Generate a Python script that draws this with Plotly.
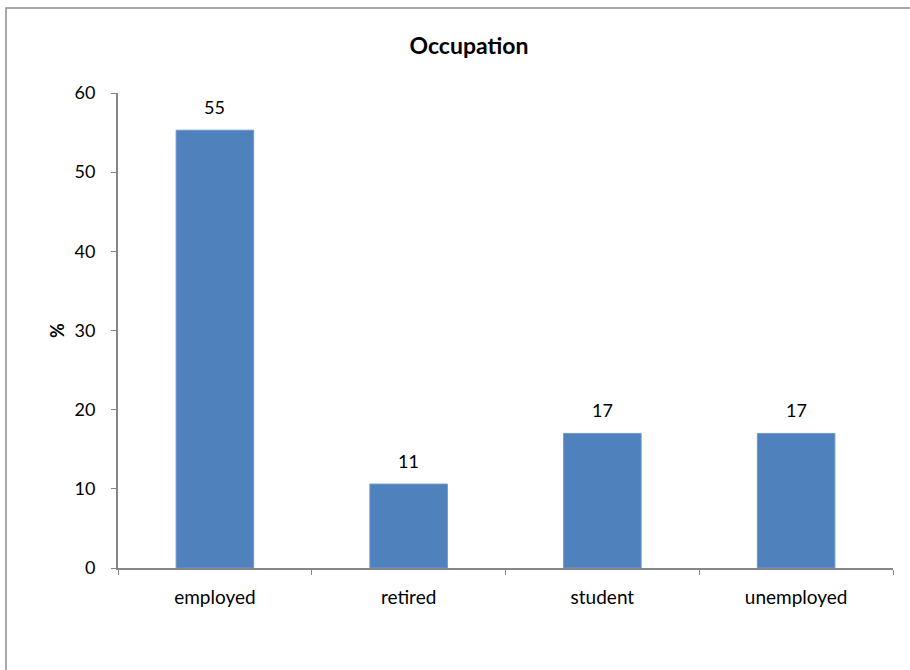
import plotly.graph_objects as go

categories = ["employed", "retired", "student", "unemployed"]
values = [55.3, 10.6, 17.0, 17.0]
y_ticks = [0, 10, 20, 30, 40, 50, 60]

W, H = 910, 670
L, R, T, B = 118, 17, 93, 102
pw, ph = W - L - R, H - T - B
FONT = "Lato, Open Sans, sans-serif"

fig = go.Figure(go.Bar(
    x=categories, y=values,
    marker=dict(color="#4F81BD", line=dict(color="#6F96C8", width=1)),
))

for c, v in zip(categories, values):
    fig.add_annotation(x=c, y=v, text=f"{v:.0f}", showarrow=False,
                       yanchor="middle", yshift=23,
                       font=dict(family=FONT, size=18, color="#000"))

fig.update_layout(
    width=W, height=H,
    margin=dict(l=L, r=R, t=T, b=B),
    paper_bgcolor="white", plot_bgcolor="white",
    bargap=0.6,
    showlegend=False,
    font=dict(family=FONT, size=18, color="#000"),
    title=dict(text="<b>Occupation</b>", x=469 / W, xanchor="center",
               y=1 - 46 / H, yanchor="middle",
               font=dict(size=23, color="#000")),
)

fig.update_xaxes(
    showline=True, linecolor="#868686", linewidth=2,
    ticks="outside", ticklen=5, tickcolor="#868686", tickwidth=1,
    tickson="boundaries", showgrid=False,
    ticklabelstandoff=11,
    tickfont=dict(size=19),
)
fig.update_yaxes(
    range=[0, 60], tickvals=y_ticks,
    showline=True, linecolor="#868686", linewidth=2,
    ticks="outside", ticklen=5, tickcolor="#868686", tickwidth=1,
    showgrid=False, zeroline=False,
    ticklabelstandoff=12,
    title=dict(text="<b>%</b>", standoff=5, font=dict(size=18)),
)

# outer chart border
fig.add_shape(type="rect", xref="paper", yref="paper",
              x0=(6 - L) / pw, x1=(W + 20 - L) / pw,
              y0=-(H + 20 - T - ph) / ph, y1=(H - 8 - B) / ph,
              line=dict(color="#8C8C8C", width=1.5), fillcolor="rgba(0,0,0,0)",
              layer="below")

fig.write_html("out.html")
